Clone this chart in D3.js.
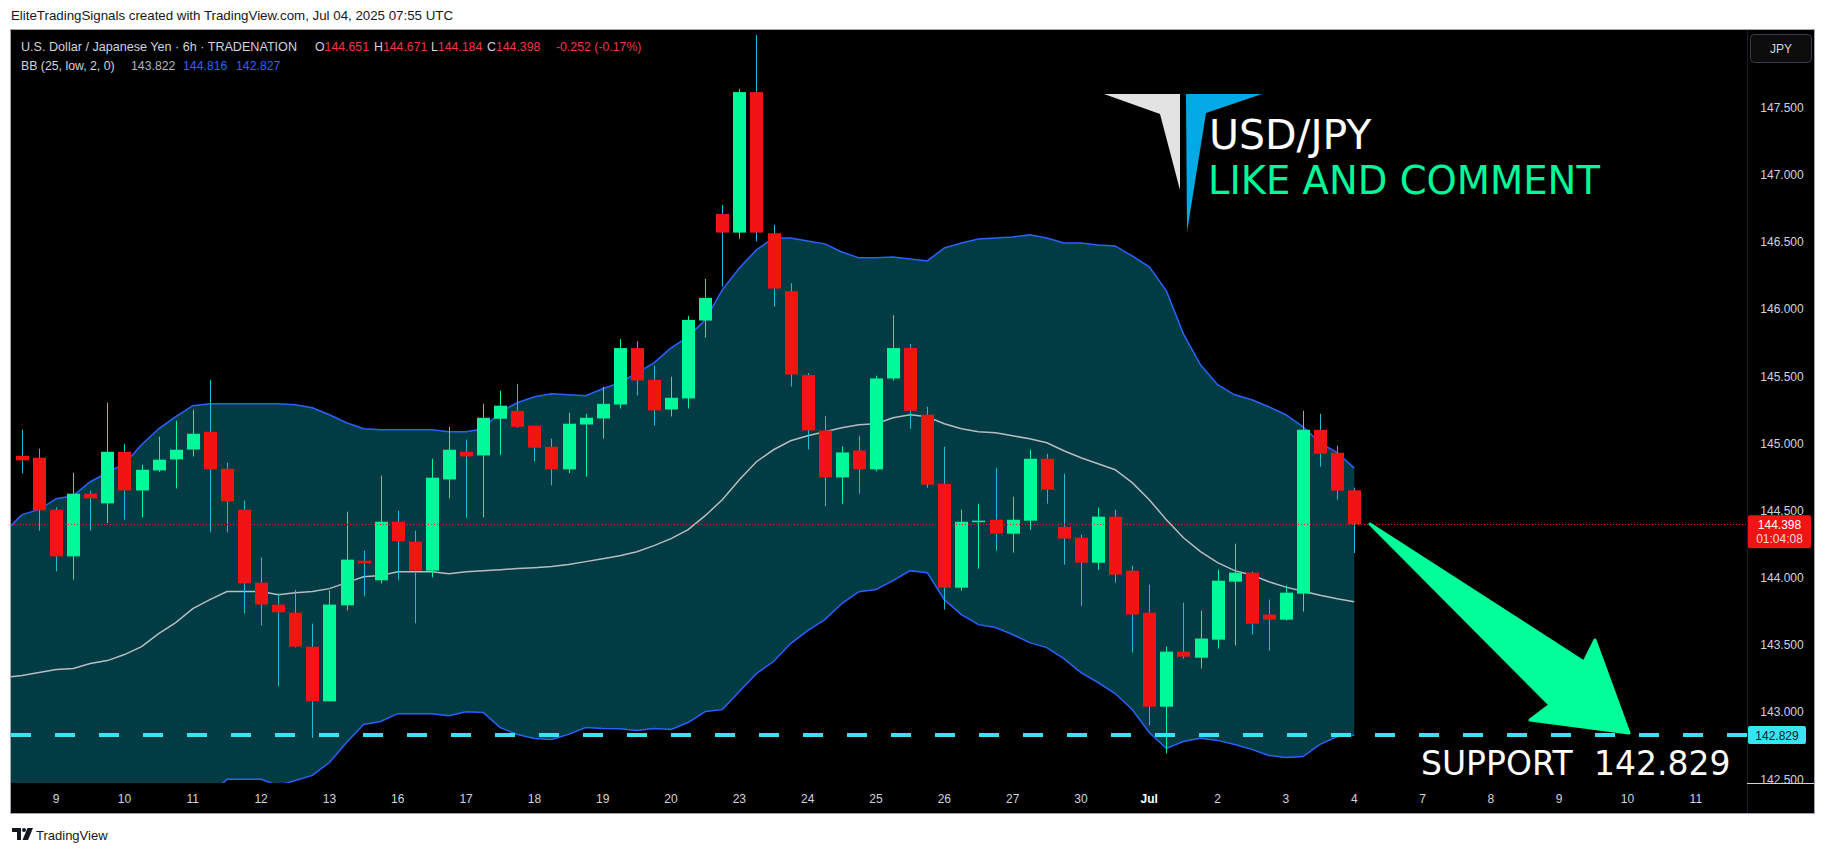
<!DOCTYPE html>
<html><head><meta charset="utf-8">
<script src="https://cdn.jsdelivr.net/npm/d3@7"></script>
<style>html,body{margin:0;padding:0;background:#fff;}svg{display:block;}</style>
</head><body>
<svg id="c" width="1826" height="853"></svg>
<script>
// ---------------- DATA ----------------
// day labels on the time axis (first 6h bar of each day); first visible candles belong to Jun 6
const dayLabels = ["9","10","11","12","13","16","17","18","19","20","23","24","25","26","27","30","Jul","2","3","4","7","8","9","10","11"];
const priceTicks = [142.5, 143.0, 143.5, 144.0, 144.5, 145.0, 145.5, 146.0, 146.5, 147.0, 147.5];

const openV  = [144.908,144.894,144.507,144.159,144.626,144.554,144.938,144.650,144.799,144.881,144.955,145.087,144.812,144.507,143.963,143.800,143.740,143.487,143.080,143.795,144.127,143.981,144.417,144.269,144.053,144.732,144.938,144.911,145.184,145.243,145.132,144.975,144.807,145.141,145.186,145.290,145.710,145.474,145.253,145.335,145.915,146.709,146.570,147.616,146.565,146.134,145.509,145.097,144.747,144.948,144.807,145.484,145.712,145.214,144.700,143.926,144.420,144.432,144.328,144.425,144.886,144.380,144.298,144.112,144.455,144.053,143.740,143.040,143.450,143.405,143.539,143.971,144.038,143.726,143.688,143.882,145.102,144.931,144.651];
const highV  = [145.102,144.961,144.524,144.780,144.648,145.303,144.998,144.841,145.050,145.169,145.251,145.474,144.856,144.574,144.150,143.882,143.911,143.658,143.904,144.492,144.201,144.760,144.499,144.350,144.886,145.124,145.028,145.296,145.394,145.444,145.132,145.035,145.228,145.221,145.422,145.777,145.762,145.578,145.496,145.950,146.225,146.776,147.639,148.041,146.627,146.193,145.524,145.206,144.978,145.057,145.504,145.955,145.742,145.273,144.975,144.507,144.551,144.819,144.603,144.953,144.923,144.775,144.321,144.522,144.507,144.090,143.949,143.487,143.815,143.755,144.060,144.254,144.045,143.837,143.941,145.243,145.221,144.983,144.671];
const lowV   = [144.777,144.350,144.048,143.986,144.350,144.408,144.432,144.449,144.789,144.665,144.903,144.338,144.338,143.735,143.646,143.192,143.482,142.808,143.080,143.757,143.862,143.958,143.981,143.661,144.003,144.591,144.447,144.450,144.916,145.117,144.866,144.688,144.780,144.752,145.037,145.260,145.357,145.134,145.201,145.260,145.789,146.168,146.525,146.503,146.019,145.424,144.955,144.532,144.550,144.626,144.792,145.469,145.109,144.670,143.763,143.904,144.067,144.202,144.187,144.358,144.551,144.097,143.792,144.060,143.964,143.443,142.900,142.691,143.398,143.324,143.472,143.495,143.577,143.457,143.681,143.748,144.827,144.581,144.184];
const closeV = [144.874,144.502,144.159,144.626,144.591,144.938,144.650,144.804,144.879,144.953,145.072,144.807,144.568,143.958,143.800,143.743,143.487,143.080,143.800,144.135,144.107,144.417,144.271,144.053,144.745,144.953,144.903,145.191,145.281,145.124,144.968,144.807,145.147,145.191,145.295,145.710,145.469,145.246,145.340,145.920,146.084,146.570,147.616,146.570,146.153,145.513,145.097,144.747,144.933,144.807,145.484,145.710,145.243,144.693,143.926,144.417,144.425,144.328,144.432,144.886,144.655,144.291,144.112,144.455,144.023,143.726,143.040,143.450,143.412,143.547,143.978,144.038,143.658,143.688,143.889,145.102,144.923,144.648,144.398];

// Bollinger Bands (25, low, 2, 0); first value is the bar just left of the first visible candle
const bbUpper = [144.343,144.470,144.507,144.589,144.611,144.715,144.782,144.849,144.990,145.109,145.199,145.281,145.295,145.295,145.295,145.295,145.295,145.288,145.266,145.214,145.154,145.109,145.102,145.102,145.102,145.102,145.087,145.087,145.109,145.236,145.303,145.347,145.370,145.362,145.355,145.407,145.452,145.526,145.600,145.712,145.794,145.920,146.144,146.307,146.441,146.530,146.530,146.508,146.486,146.426,146.382,146.382,146.389,146.374,146.359,146.456,146.493,146.523,146.530,146.538,146.553,146.530,146.493,146.493,146.478,146.471,146.397,146.315,146.136,145.816,145.586,145.437,145.362,145.325,145.273,145.214,145.124,145.005,144.931,144.816];
const bbBasis = [143.257,143.272,143.294,143.316,143.324,143.361,143.383,143.428,143.487,143.584,143.666,143.770,143.837,143.897,143.897,143.897,143.874,143.889,143.897,143.919,143.964,144.008,144.016,144.045,144.045,144.045,144.030,144.045,144.053,144.060,144.068,144.075,144.083,144.098,144.120,144.142,144.164,144.194,144.239,144.291,144.358,144.462,144.581,144.730,144.864,144.953,145.020,145.057,145.087,145.117,145.139,145.147,145.191,145.214,145.199,145.147,145.109,145.087,145.080,145.057,145.035,145.005,144.946,144.894,144.849,144.804,144.708,144.581,144.432,144.298,144.194,144.112,144.053,144.020,143.970,143.930,143.900,143.870,143.844,143.822];
const bbLower = [142.171,142.074,142.081,142.043,142.037,142.007,141.984,142.007,141.984,142.059,142.133,142.259,142.379,142.499,142.499,142.499,142.453,142.490,142.528,142.624,142.774,142.907,142.930,142.988,142.988,142.988,142.973,143.003,142.997,142.884,142.833,142.803,142.796,142.834,142.885,142.877,142.876,142.862,142.878,142.870,142.922,143.004,143.018,143.153,143.287,143.376,143.510,143.606,143.688,143.808,143.896,143.912,143.978,144.053,144.038,143.837,143.726,143.651,143.629,143.577,143.517,143.480,143.398,143.294,143.220,143.138,143.019,142.848,142.729,142.781,142.804,142.789,142.759,142.722,142.677,142.662,142.669,142.759,142.818,142.827];

const lastPrice = 144.398;
const supportLevel = 142.829;
const headerValues = {O:"144.651", H:"144.671", L:"144.184", C:"144.398", chg:"-0.252 (-0.17%)"};
const bbValues = ["143.822","144.816","142.827"];

// ---------------- LAYOUT ----------------
const W = 1826, H = 853;
const FL = 11, FT = 30, FR = 1814, FB = 813;   // chart frame
const PR = 1747, PB = 783;                     // plot right / bottom
const GREEN = "#00fa9a", RED = "#f21313", CYAN = "#36e4f4", WICK_DN = "#1ebcd8";
const FONT = "'Liberation Sans', Arial, sans-serif";
const DV = "'DejaVu Sans', sans-serif";

const svg = d3.select("#c");
svg.append("rect").attr("width", W).attr("height", H).attr("fill", "#fff");

const x = d3.scaleLinear().domain([0, 78]).range([22, 1354.24]);
const y = d3.scaleLinear().domain([142.5, 147.5]).range([779.2, 107.7]);
const step = x(1) - x(0);

// frame
svg.append("rect").attr("x", FL - 0.5).attr("y", FT - 0.5).attr("width", FR - FL + 1).attr("height", FB - FT + 1)
  .attr("fill", "#000").attr("stroke", "#a3a6af").attr("stroke-width", 1);

// top credit line
svg.append("text").attr("x", 11).attr("y", 20).attr("font-family", FONT).attr("font-size", 13.3)
  .attr("fill", "#131722").text("EliteTradingSignals created with TradingView.com, Jul 04, 2025 07:55 UTC");

// clip
const defs = svg.append("defs");
defs.append("clipPath").attr("id", "plotClip").append("rect").attr("x", FL).attr("y", FT).attr("width", PR - FL).attr("height", PB - FT);
defs.append("clipPath").attr("id", "axisClip").append("rect").attr("x", PR).attr("y", FT).attr("width", FR - PR).attr("height", PB - FT);

const plot = svg.append("g").attr("clip-path", "url(#plotClip)");

// Bollinger bands
const bands = bbUpper.map((u, k) => ({i: k - 1, up: u, mid: bbBasis[k], lo: bbLower[k]}));
plot.append("path").datum(bands).attr("fill", "#013b43")
  .attr("d", d3.area().x(d => x(d.i)).y0(d => y(d.lo)).y1(d => y(d.up)));
plot.append("path").datum(bands).attr("fill", "none").attr("stroke", "#2962ff").attr("stroke-width", 1.5)
  .attr("d", d3.line().x(d => x(d.i)).y(d => y(d.up)));
plot.append("path").datum(bands).attr("fill", "none").attr("stroke", "#2962ff").attr("stroke-width", 1.5)
  .attr("d", d3.line().x(d => x(d.i)).y(d => y(d.lo)));
plot.append("path").datum(bands).attr("fill", "none").attr("stroke", "#b9bcc4").attr("stroke-width", 1.5)
  .attr("d", d3.line().x(d => x(d.i)).y(d => y(d.mid)));

// candles
const candles = openV.map((o, i) => ({i, o, h: highV[i], l: lowV[i], c: closeV[i]}));
const bodyW = Math.round(step * 0.76);
const cg = plot.append("g");
cg.selectAll("line.wick").data(candles).join("line").attr("class", "wick")
  .attr("x1", d => Math.round(x(d.i)) + 0.5).attr("x2", d => Math.round(x(d.i)) + 0.5)
  .attr("y1", d => y(d.h)).attr("y2", d => y(d.l))
  .attr("stroke", d => d.c >= d.o ? GREEN : WICK_DN).attr("stroke-width", 1);
cg.selectAll("rect.body").data(candles).join("rect").attr("class", "body")
  .attr("x", d => Math.round(x(d.i)) + 0.5 - bodyW / 2)
  .attr("y", d => y(Math.max(d.o, d.c)))
  .attr("width", bodyW)
  .attr("height", d => Math.max(1.5, Math.abs(y(d.o) - y(d.c))))
  .attr("fill", d => d.c >= d.o ? GREEN : RED);

// current price dotted line
plot.append("line").attr("x1", FL).attr("x2", PR).attr("y1", Math.round(y(lastPrice)) + 0.5).attr("y2", Math.round(y(lastPrice)) + 0.5)
  .attr("stroke", RED).attr("stroke-width", 1).attr("stroke-dasharray", "1,2");
// support dashed line
plot.append("line").attr("x1", FL).attr("x2", PR).attr("y1", y(supportLevel)).attr("y2", y(supportLevel))
  .attr("stroke", CYAN).attr("stroke-width", 4).attr("stroke-dasharray", "20,24");

// price axis
svg.append("line").attr("x1", PR + 0.5).attr("x2", PR + 0.5).attr("y1", FT).attr("y2", FB).attr("stroke", "#1c1e24");
const pax = svg.append("g").attr("clip-path", "url(#axisClip)");
pax.selectAll("text").data(priceTicks).join("text")
  .attr("x", 1782).attr("y", d => y(d)).attr("dy", "0.36em").attr("text-anchor", "middle")
  .attr("font-family", FONT).attr("font-size", 12).attr("fill", "#d1d4dc").text(d => d3.format(".3f")(d));
svg.append("line").attr("x1", PR).attr("x2", FR).attr("y1", PB + 0.5).attr("y2", PB + 0.5).attr("stroke", "#d1d4dc");

// JPY button
svg.append("rect").attr("x", 1750.5).attr("y", 34.5).attr("width", 61).attr("height", 28).attr("rx", 4)
  .attr("fill", "#0c0c0c").attr("stroke", "#3a3d47");
svg.append("text").attr("x", 1781).attr("y", 53).attr("text-anchor", "middle").attr("font-family", FONT).attr("font-size", 12)
  .attr("fill", "#d1d4dc").text("JPY");

// last price label
const ly = y(lastPrice);
svg.append("rect").attr("x", 1748).attr("y", ly - 9).attr("width", 63).attr("height", 33).attr("rx", 2).attr("fill", RED);
svg.append("text").attr("x", 1779.5).attr("y", ly + 4.5).attr("text-anchor", "middle").attr("font-family", FONT).attr("font-size", 12)
  .attr("fill", "#fff").text(lastPrice.toFixed(3));
svg.append("text").attr("x", 1779.5).attr("y", ly + 19).attr("text-anchor", "middle").attr("font-family", FONT).attr("font-size", 12)
  .attr("fill", "#ffd6d6").text("01:04:08");
// support label
const sy = y(supportLevel);
svg.append("rect").attr("x", 1748).attr("y", sy - 9).attr("width", 58).attr("height", 18).attr("rx", 2).attr("fill", CYAN);
svg.append("text").attr("x", 1777).attr("y", sy + 4.5).attr("text-anchor", "middle").attr("font-family", FONT).attr("font-size", 12)
  .attr("fill", "#131722").text(supportLevel.toFixed(3));

// time axis
const tax = svg.append("g");
tax.selectAll("text").data(dayLabels).join("text")
  .attr("x", (d, k) => x(2 + 4 * k)).attr("y", 803).attr("text-anchor", "middle")
  .attr("font-family", FONT).attr("font-size", 12)
  .attr("font-weight", d => d === "Jul" ? "bold" : "normal")
  .attr("fill", d => d === "Jul" ? "#ffffff" : "#d1d4dc").text(d => d);

// legend lines
svg.append("text").attr("x", 21).attr("y", 51).attr("font-family", FONT).attr("font-size", 12.6).attr("fill", "#d1d4dc")
  .text("U.S. Dollar / Japanese Yen · 6h · TRADENATION");
const legendItems = [["O", headerValues.O, 315], ["H", headerValues.H, 374], ["L", headerValues.L, 431], ["C", headerValues.C, 487]];
legendItems.forEach(([k, v, px]) => {
  const t = svg.append("text").attr("x", px).attr("y", 51).attr("font-family", FONT).attr("font-size", 12.3);
  t.append("tspan").attr("fill", "#d1d4dc").text(k);
  t.append("tspan").attr("fill", "#f23645").text(v);
});
svg.append("text").attr("x", 556).attr("y", 51).attr("font-family", FONT).attr("font-size", 12.3).attr("fill", "#f23645").text(headerValues.chg);
svg.append("text").attr("x", 21).attr("y", 70).attr("font-family", FONT).attr("font-size", 12.3).attr("fill", "#d1d4dc").text("BB (25, low, 2, 0)");
[[bbValues[0], 131, "#b2b5be"], [bbValues[1], 183, "#2962ff"], [bbValues[2], 236, "#2962ff"]].forEach(([v, px, col]) => {
  svg.append("text").attr("x", px).attr("y", 70).attr("font-family", FONT).attr("font-size", 12.3).attr("fill", col).text(v);
});

// logo + titles
svg.append("polygon").attr("points", "1104,94 1180,94 1180,190 1160,114").attr("fill", "#e3e3e3");
svg.append("polygon").attr("points", "1186,94 1262,94 1206,113 1187,232").attr("fill", "#02a9e6");
svg.append("text").attr("x", 1209).attr("y", 149).attr("font-family", DV).attr("font-size", 41)
  .attr("fill", "#ffffff").text("USD/JPY");
svg.append("text").attr("x", 1208).attr("y", 194).attr("font-family", DV).attr("font-size", 38.5)
  .attr("fill", GREEN).text("LIKE AND COMMENT");

// arrow
svg.append("polygon").attr("points", "1370,524 1584,662 1595,640 1629,733 1530,720 1550,705")
  .attr("fill", "#00ff99").attr("stroke", "#00ff99").attr("stroke-width", 3).attr("stroke-linejoin", "round");

// support text
const st = svg.append("text").attr("y", 775).attr("font-family", DV).attr("font-size", 33).attr("fill", "#ffffff");
st.append("tspan").attr("x", 1421).text("SUPPORT");
st.append("tspan").attr("x", 1594).text(supportLevel.toFixed(3));

// TradingView footer
const tv = svg.append("g").attr("transform", "translate(12,828)").attr("fill", "#131722");
tv.append("path").attr("d", "M0 0h9v12h-4v-8h-5z");
tv.append("circle").attr("cx", 12).attr("cy", 2).attr("r", 2);
tv.append("path").attr("d", "M15.5 0h5.5l-5 12h-5.5z");
svg.append("text").attr("x", 36).attr("y", 840).attr("font-family", FONT).attr("font-size", 13).attr("fill", "#131722").text("TradingView");
</script>
</body></html>
